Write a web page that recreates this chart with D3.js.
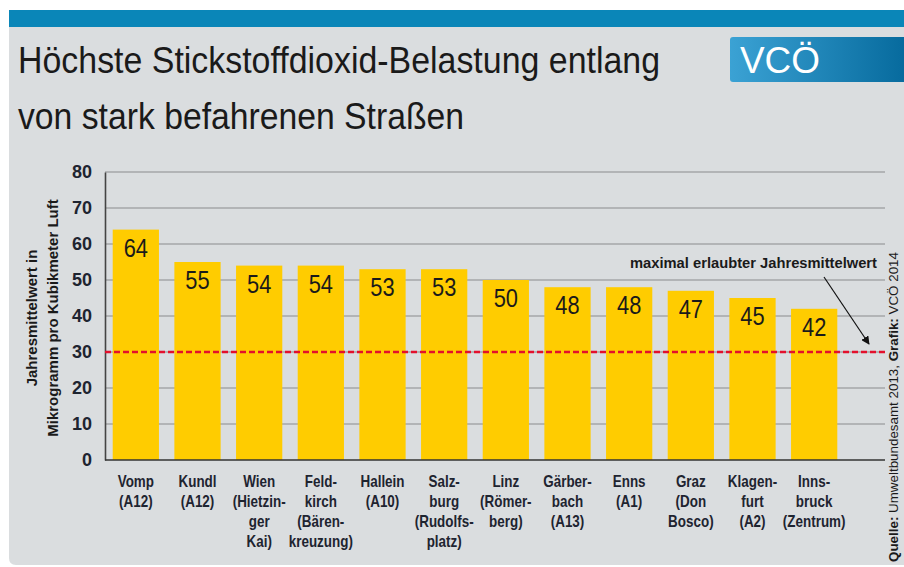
<!DOCTYPE html>
<html>
<head>
<meta charset="utf-8">
<script src="https://cdn.jsdelivr.net/npm/d3@7"></script>
<style>
  body { margin: 0; background: #ffffff; }
  svg { display: block; }
  text { font-family: "Liberation Sans Narrow", "Liberation Sans", "DejaVu Sans Condensed", sans-serif; }
</style>
</head>
<body>
<div id="chart"></div>
<script>
// data
var categories = [
    [ 'Vomp', '(A12)' ],
    [ 'Kundl', '(A12)' ],
    [ 'Wien', '(Hietzin-', 'ger', 'Kai)' ],
    [ 'Feld-', 'kirch', '(Bären-', 'kreuzung)' ],
    [ 'Hallein', '(A10)' ],
    [ 'Salz-', 'burg', '(Rudolfs-', 'platz)' ],
    [ 'Linz', '(Römer-', 'berg)' ],
    [ 'Gärber-', 'bach', '(A13)' ],
    [ 'Enns', '(A1)' ],
    [ 'Graz', '(Don', 'Bosco)' ],
    [ 'Klagen-', 'furt', '(A2)' ],
    [ 'Inns-', 'bruck', '(Zentrum)' ]
];
var values = [ 64, 55, 54, 54, 53, 53, 50, 48, 48, 47, 45, 42 ];
var yTicks = [ 0, 10, 20, 30, 40, 50, 60, 70, 80 ];
var limitValue = 30;

var titleLines = [ 'Höchste Stickstoffdioxid-Belastung entlang', 'von stark befahrenen Straßen' ];
var axisLabelLines = [ 'Jahresmittelwert in', 'Mikrogramm pro Kubikmeter Luft' ];
var limitLabel = 'maximal erlaubter Jahresmittelwert';

// layout
var width = 904;
var height = 567;
var plot = { left: 105, right: 885, top: 172, bottom: 460 };
var barsRight = 845;
var narrow = 0.84;

var svg = d3.select( '#chart' )
            .append( 'svg' )
            .attr( 'width', width )
            .attr( 'height', height );

var defs = svg.append( 'defs' );

var logoGrad = defs.append( 'linearGradient' ).attr( 'id', 'logoGrad' );
logoGrad.append( 'stop' ).attr( 'offset', '0%' ).attr( 'stop-color', '#3ba2d4' );
logoGrad.append( 'stop' ).attr( 'offset', '100%' ).attr( 'stop-color', '#05699c' );

defs.append( 'marker' )
    .attr( 'id', 'arrow' )
    .attr( 'viewBox', '0 0 10 10' )
    .attr( 'refX', 9 )
    .attr( 'refY', 5 )
    .attr( 'markerWidth', 7 )
    .attr( 'markerHeight', 7 )
    .attr( 'orient', 'auto' )
    .append( 'path' )
    .attr( 'd', 'M0,0 L10,5 L0,10 z' )
    .attr( 'fill', '#111' );

// background panel + top band
svg.append( 'path' )
   .attr( 'd', 'M9,27 H904 V565 H16 Q9,565 9,558 Z' )
   .attr( 'fill', '#dadddf' );
svg.append( 'rect' )
   .attr( 'x', 9 ).attr( 'y', 10 )
   .attr( 'width', width - 9 ).attr( 'height', 17 )
   .attr( 'fill', '#0a86b8' );

// title
titleLines.forEach( function( line, i ) {
    svg.append( 'text' )
       .attr( 'x', 18 )
       .attr( 'y', 73 + i * 56 )
       .attr( 'font-size', 36 )
       .attr( 'fill', '#1a1a1a' )
       .attr( 'textLength', i == 0 ? 642 : 446 )
       .attr( 'lengthAdjust', 'spacingAndGlyphs' )
       .text( line );
});

// logo
svg.append( 'rect' )
   .attr( 'x', 730 ).attr( 'y', 37 )
   .attr( 'width', 180 ).attr( 'height', 45 )
   .attr( 'rx', 3 )
   .attr( 'fill', 'url(#logoGrad)' );
svg.append( 'text' )
   .attr( 'x', 740 ).attr( 'y', 73 )
   .attr( 'font-size', 36 )
   .attr( 'fill', '#ffffff' )
   .attr( 'textLength', 80 )
   .attr( 'lengthAdjust', 'spacingAndGlyphs' )
   .text( 'VCÖ' );

// scales
var x = d3.scaleBand()
          .domain( d3.range( categories.length ) )
          .range( [ plot.left, barsRight ] )
          .paddingInner( 0.25 )
          .paddingOuter( 0.125 );

var y = d3.scaleLinear()
          .domain( [ 0, 80 ] )
          .range( [ plot.bottom, plot.top ] );

// grid
svg.append( 'g' )
   .selectAll( 'line' )
   .data( yTicks.filter( function( d ) { return d > 0; } ) )
   .enter()
   .append( 'line' )
   .attr( 'x1', plot.left ).attr( 'x2', plot.right )
   .attr( 'y1', function( d ) { return y( d ); } )
   .attr( 'y2', function( d ) { return y( d ); } )
   .attr( 'stroke', '#8a8c8e' )
   .attr( 'stroke-width', 1.2 );

// y axis
var yAxis = svg.append( 'g' )
               .attr( 'transform', 'translate(' + plot.left + ',0)' )
               .call( d3.axisLeft( y ).tickValues( yTicks ).tickSize( 0 ).tickPadding( 13 ) );
yAxis.select( '.domain' ).attr( 'stroke', '#444' ).attr( 'stroke-width', 1.6 );
yAxis.selectAll( 'text' )
     .attr( 'font-size', 18 )
     .attr( 'font-weight', 'bold' )
     .attr( 'fill', '#1e2430' )
     .style( 'font-family', '"Liberation Sans Narrow", "Liberation Sans", sans-serif' );

// axis label
axisLabelLines.forEach( function( line, i ) {
    svg.append( 'text' )
       .attr( 'transform', 'translate(' + ( 37 + i * 21 ) + ',318) rotate(-90)' )
       .attr( 'text-anchor', 'middle' )
       .attr( 'font-size', 15 )
       .attr( 'font-weight', 'bold' )
       .attr( 'fill', '#1a1a1a' )
       .text( line );
});

// bars
svg.append( 'g' )
   .selectAll( 'rect' )
   .data( values )
   .enter()
   .append( 'rect' )
   .attr( 'x', function( d, i ) { return x( i ); } )
   .attr( 'y', function( d ) { return y( d ); } )
   .attr( 'width', x.bandwidth() )
   .attr( 'height', function( d ) { return y( 0 ) - y( d ); } )
   .attr( 'fill', '#ffcc00' );

// value labels
svg.append( 'g' )
   .selectAll( 'text' )
   .data( values )
   .enter()
   .append( 'text' )
   .attr( 'transform', function( d, i ) {
       return 'translate(' + ( x( i ) + x.bandwidth() / 2 ) + ',' + ( y( d ) + 27 ) + ') scale(' + narrow + ',1)';
   })
   .attr( 'text-anchor', 'middle' )
   .attr( 'font-size', 26 )
   .attr( 'fill', '#1a1a1a' )
   .text( function( d ) { return d; } );

// baseline
svg.append( 'line' )
   .attr( 'x1', plot.left ).attr( 'x2', plot.right )
   .attr( 'y1', y( 0 ) ).attr( 'y2', y( 0 ) )
   .attr( 'stroke', '#333' )
   .attr( 'stroke-width', 1.6 );

// category labels
var catLabels = svg.append( 'g' )
                   .selectAll( 'text' )
                   .data( categories )
                   .enter()
                   .append( 'text' )
                   .attr( 'transform', function( d, i ) {
                       return 'translate(' + ( x( i ) + x.bandwidth() / 2 ) + ',487) scale(' + narrow + ',1)';
                   })
                   .attr( 'text-anchor', 'middle' )
                   .attr( 'font-size', 16 )
                   .attr( 'font-weight', 'bold' )
                   .attr( 'fill', '#1e2430' );
catLabels.selectAll( 'tspan' )
         .data( function( d ) { return d; } )
         .enter()
         .append( 'tspan' )
         .attr( 'x', 0 )
         .attr( 'dy', function( d, i ) { return i == 0 ? 0 : 20; } )
         .text( function( d ) { return d; } );

// limit line
svg.append( 'line' )
   .attr( 'x1', plot.left ).attr( 'x2', plot.right )
   .attr( 'y1', y( limitValue ) ).attr( 'y2', y( limitValue ) )
   .attr( 'stroke', '#e3102c' )
   .attr( 'stroke-width', 2.5 )
   .attr( 'stroke-dasharray', '6,3' );

// limit annotation
svg.append( 'text' )
   .attr( 'x', 877 )
   .attr( 'y', 268 )
   .attr( 'text-anchor', 'end' )
   .attr( 'font-size', 15 )
   .attr( 'font-weight', 'bold' )
   .attr( 'fill', '#1a1a1a' )
   .attr( 'textLength', 247 )
   .attr( 'lengthAdjust', 'spacingAndGlyphs' )
   .text( limitLabel );

svg.append( 'line' )
   .attr( 'x1', 824 ).attr( 'y1', 277 )
   .attr( 'x2', 869 ).attr( 'y2', y( limitValue ) - 8 )
   .attr( 'stroke', '#111' )
   .attr( 'stroke-width', 1.2 )
   .attr( 'marker-end', 'url(#arrow)' );

// source
var source = svg.append( 'text' )
                .attr( 'transform', 'translate(898,562) rotate(-90)' )
                .attr( 'font-size', 12 )
                .attr( 'fill', '#1a1a1a' )
                .attr( 'textLength', 310 )
                .attr( 'lengthAdjust', 'spacingAndGlyphs' );
source.append( 'tspan' ).attr( 'font-weight', 'bold' ).text( 'Quelle: ' );
source.append( 'tspan' ).text( 'Umweltbundesamt 2013, ' );
source.append( 'tspan' ).attr( 'font-weight', 'bold' ).text( 'Grafik: ' );
source.append( 'tspan' ).text( 'VCÖ 2014' );
</script>
</body>
</html>
